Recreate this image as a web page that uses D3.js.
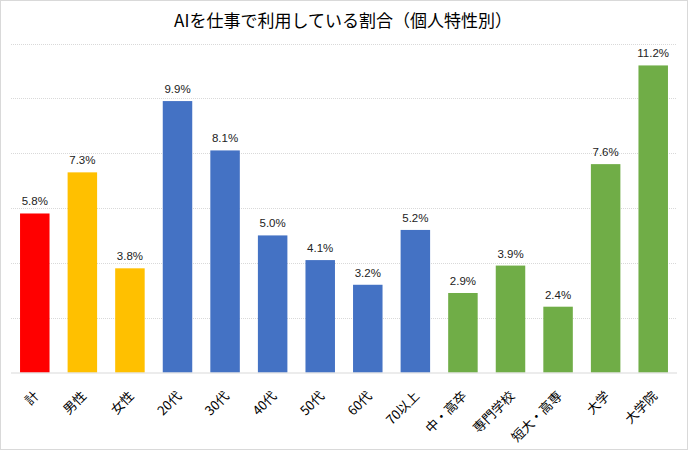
<!DOCTYPE html>
<html><head><meta charset="utf-8">
<script src="https://cdn.jsdelivr.net/npm/d3@7/dist/d3.min.js"></script>
<style>
html,body{margin:0;padding:0;background:#fff;}
svg{display:block;font-family:"Noto Sans CJK JP","Noto Sans",sans-serif;}
</style></head>
<body><svg id="c" width="688" height="450"></svg>
<script>
const title = "AIを仕事で利用している割合（個人特性別）";
const categories = ["計","男性","女性","20代","30代","40代","50代","60代","70以上","中・高卒","専門学校","短大・高専","大学","大学院"];
const values = [5.8,7.3,3.8,9.9,8.1,5.0,4.1,3.2,5.2,2.9,3.9,2.4,7.6,11.2];
const groups = ["total","gender","gender","age","age","age","age","age","age","edu","edu","edu","edu","edu"];
const yTicks = [0,2,4,6,8,10,12];
const colors = {total:"#FF0000", gender:"#FFC000", age:"#4472C4", edu:"#70AD47"};

const svg = d3.select("#c");
const W = 688, H = 450;
svg.append("rect").attr("x",0.5).attr("y",0.5).attr("width",W-1).attr("height",H-1)
  .attr("fill","#fff").attr("stroke","#d9d9d9");

const x = d3.scaleBand().domain(categories).range([11,677]).paddingInner(0.38).paddingOuter(0.19);
const y = d3.scaleLinear().domain([0,12]).range([372.5,43.5]);

svg.append("text").attr("x",343).attr("y",27).attr("text-anchor","middle")
  .attr("font-size",17).attr("fill","#000").text(title);

const grid = svg.append("g");
grid.selectAll("line").data(yTicks.filter(d=>d>0)).join("line")
  .attr("x1",11).attr("x2",677).attr("y1",d=>Math.round(y(d))+0.5).attr("y2",d=>Math.round(y(d))+0.5)
  .attr("stroke","#d9d9d9").attr("stroke-width",1).attr("stroke-dasharray","1,1");

svg.append("g").selectAll("rect").data(values).join("rect")
  .attr("x",(d,i)=>x(categories[i])).attr("width",x.bandwidth())
  .attr("y",d=>y(d)).attr("height",d=>y(0)-y(d))
  .attr("fill",(d,i)=>colors[groups[i]]);

svg.append("line").attr("x1",11).attr("x2",677).attr("y1",373).attr("y2",373)
  .attr("stroke","#d9d9d9").attr("stroke-width",1);

svg.append("g").selectAll("text").data(values).join("text")
  .attr("x",(d,i)=>x(categories[i])+x.bandwidth()/2).attr("y",d=>y(d)-8)
  .attr("text-anchor","middle").attr("font-size",11.5).attr("fill","#222")
  .attr("font-family","'Liberation Sans',Arial,sans-serif")
  .text(d=>d.toFixed(1)+"%");

svg.append("g").selectAll("text").data(categories).join("text")
  .attr("transform",d=>`translate(${x(d)+x.bandwidth()/2+1},393) rotate(-45)`)
  .attr("text-anchor","end").attr("dominant-baseline","central")
  .attr("font-size",13).attr("fill","#000").text(d=>d);
</script></body></html>
